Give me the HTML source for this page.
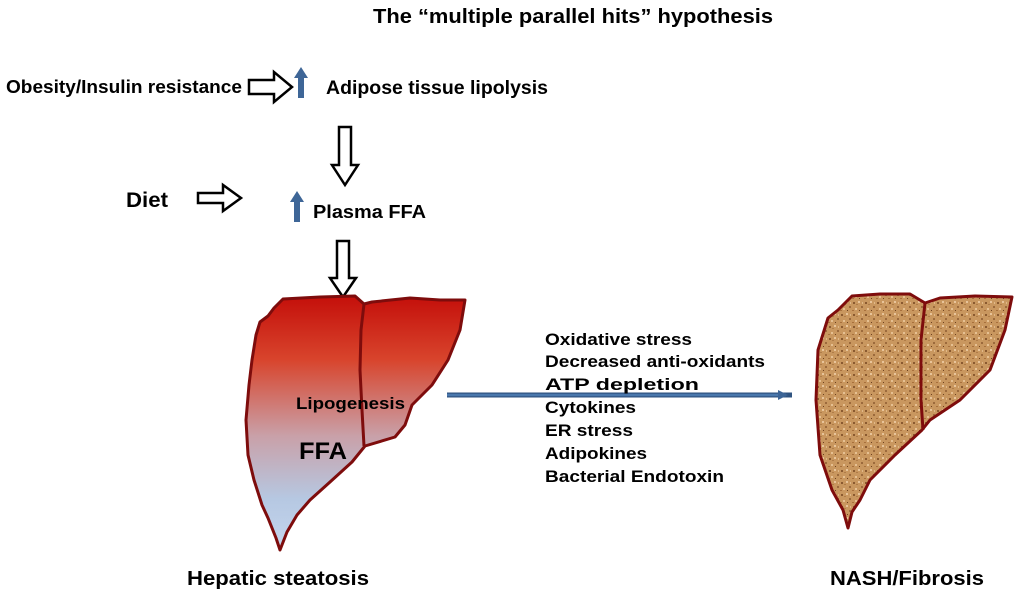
<!DOCTYPE html>
<html><head><meta charset="utf-8"><style>
body{margin:0;background:#fff;width:1024px;height:595px;overflow:hidden;font-family:"Liberation Sans",Arial,sans-serif}
</style></head><body>
<svg width="1024" height="595" viewBox="0 0 1024 595" xmlns="http://www.w3.org/2000/svg" font-family="Liberation Sans, Arial, sans-serif" font-weight="bold">
<defs>
<linearGradient id="g1" x1="0" y1="0" x2="0" y2="1">
<stop offset="0" stop-color="#c40f0a"/><stop offset="0.25" stop-color="#d8442c"/><stop offset="0.55" stop-color="#c9a0a8"/><stop offset="0.8" stop-color="#b6c8e2"/><stop offset="1" stop-color="#c4d6ee"/></linearGradient>
<pattern id="sp" width="12" height="12" patternUnits="userSpaceOnUse">
<rect width="12" height="12" fill="#c9975f"/>
<rect x="1" y="2" width="2" height="2" fill="#8a5a30"/>
<rect x="6" y="1" width="2" height="2" fill="#e8c49a"/>
<rect x="9" y="6" width="2" height="2" fill="#9c6a3c"/>
<rect x="3" y="8" width="2" height="2" fill="#e6c092"/>
<rect x="7" y="10" width="1" height="1" fill="#6e4220"/>
<rect x="4" y="4" width="2" height="1" fill="#b07c48"/>
<rect x="10" y="2" width="1" height="2" fill="#e0b888"/>
<rect x="0" y="10" width="2" height="1" fill="#a8703c"/>
</pattern>
<marker id="ah" markerWidth="10" markerHeight="10" refX="8" refY="5" orient="auto" markerUnits="userSpaceOnUse"><path d="M0,0 L10,5 L0,10 Z" fill="#3c6496"/></marker>
</defs>
<text x="373" y="23" font-size="20" textLength="400" lengthAdjust="spacingAndGlyphs">The “multiple parallel hits” hypothesis</text>
<text x="6" y="93" font-size="18" textLength="236" lengthAdjust="spacingAndGlyphs">Obesity/Insulin resistance</text>
<text x="326" y="94" font-size="19" textLength="222" lengthAdjust="spacingAndGlyphs">Adipose  tissue lipolysis</text>
<text x="126" y="207" font-size="21" textLength="42" lengthAdjust="spacingAndGlyphs">Diet</text>
<text x="313" y="218" font-size="18" textLength="113" lengthAdjust="spacingAndGlyphs">Plasma  FFA</text>
<path d="M249,80 h25 v-8 l18,15 l-18,15 v-8 h-25 Z" fill="#fff" stroke="#000" stroke-width="2.5"/>
<path d="M198,193 h25 v-8 l18,13 l-18,13 v-8 h-25 Z" fill="#fff" stroke="#000" stroke-width="2.5"/>
<path d="M339,127 h12 v38 h7 l-13,20 l-13,-20 h7 Z" fill="#fff" stroke="#000" stroke-width="2.5"/>
<path d="M337,241 h12 v37 h7 l-13,19 l-13,-19 h7 Z" fill="#fff" stroke="#000" stroke-width="2.5"/>
<g fill="#3e6697">
<path d="M298,98 v-20 h-4 l7,-11 l7,11 h-4 v20 Z"/>
<path d="M294,222 v-20 h-4 l7,-11 l7,11 h-4 v20 Z"/>
<path d="M278,420 v-20 h-4 l7,-11 l7,11 h-4 v20 Z"/>
<path d="M278,461 v-23 h-4 l7,-11 l7,11 h-4 v23 Z"/>
</g>
<path d="M283,299 L320,297 L355,296 L364,304 L372,302 L410,298 L440,300 L465,300 L460,330 L448,360 L432,385 L412,405 L405,425 L395,437 L365,446 L352,462 L330,482 L310,500 L297,515 L287,532 L280,550 L276,538 L268,518 L262,505 L254,480 L248,455 L246,420 L249,385 L252,360 L256,335 L260,322 L268,316 L274,308 Z" fill="url(#g1)" stroke="#7e0c0c" stroke-width="3" stroke-linejoin="round"/>
<path d="M364,304 L361,330 L360,370 L362,410 L364,446" fill="none" stroke="#7e0c0c" stroke-width="3"/>
<text x="296" y="409" font-size="17" textLength="109" lengthAdjust="spacingAndGlyphs">Lipogenesis</text>
<text x="299" y="459" font-size="24" textLength="48" lengthAdjust="spacingAndGlyphs">FFA</text>
<line x1="447" y1="395" x2="792" y2="395" stroke="#2f5380" stroke-width="5"/>
<line x1="447" y1="395" x2="786" y2="395" stroke="#4a78ad" stroke-width="2.5" marker-end="url(#ah)"/>
<g font-size="17">
<text x="545" y="345" textLength="147" lengthAdjust="spacingAndGlyphs">Oxidative stress</text>
<text x="545" y="367" textLength="220" lengthAdjust="spacingAndGlyphs">Decreased anti-oxidants</text>
<text x="545" y="390" textLength="154" lengthAdjust="spacingAndGlyphs">ATP depletion</text>
<text x="545" y="413" textLength="91" lengthAdjust="spacingAndGlyphs">Cytokines</text>
<text x="545" y="436" textLength="88" lengthAdjust="spacingAndGlyphs">ER stress</text>
<text x="545" y="459" textLength="102" lengthAdjust="spacingAndGlyphs">Adipokines</text>
<text x="545" y="482" textLength="179" lengthAdjust="spacingAndGlyphs">Bacterial Endotoxin</text>
</g>
<path d="M852,296 L880,294 L910,294 L925,303 L940,298 L975,296 L1012,297 L1005,330 L990,370 L960,400 L930,420 L922,430 L895,455 L870,480 L860,500 L852,512 L848,528 L843,510 L832,490 L820,455 L816,400 L818,350 L828,318 L838,310 L846,302 Z" fill="url(#sp)" stroke="#7e0c0c" stroke-width="3" stroke-linejoin="round"/>
<path d="M925,303 L921,340 L921,400 L923,430" fill="none" stroke="#7e0c0c" stroke-width="3"/>
<text x="187" y="585" font-size="20" textLength="182" lengthAdjust="spacingAndGlyphs">Hepatic steatosis</text>
<text x="830" y="585" font-size="20" textLength="154" lengthAdjust="spacingAndGlyphs">NASH/Fibrosis</text>
</svg>
</body></html>
